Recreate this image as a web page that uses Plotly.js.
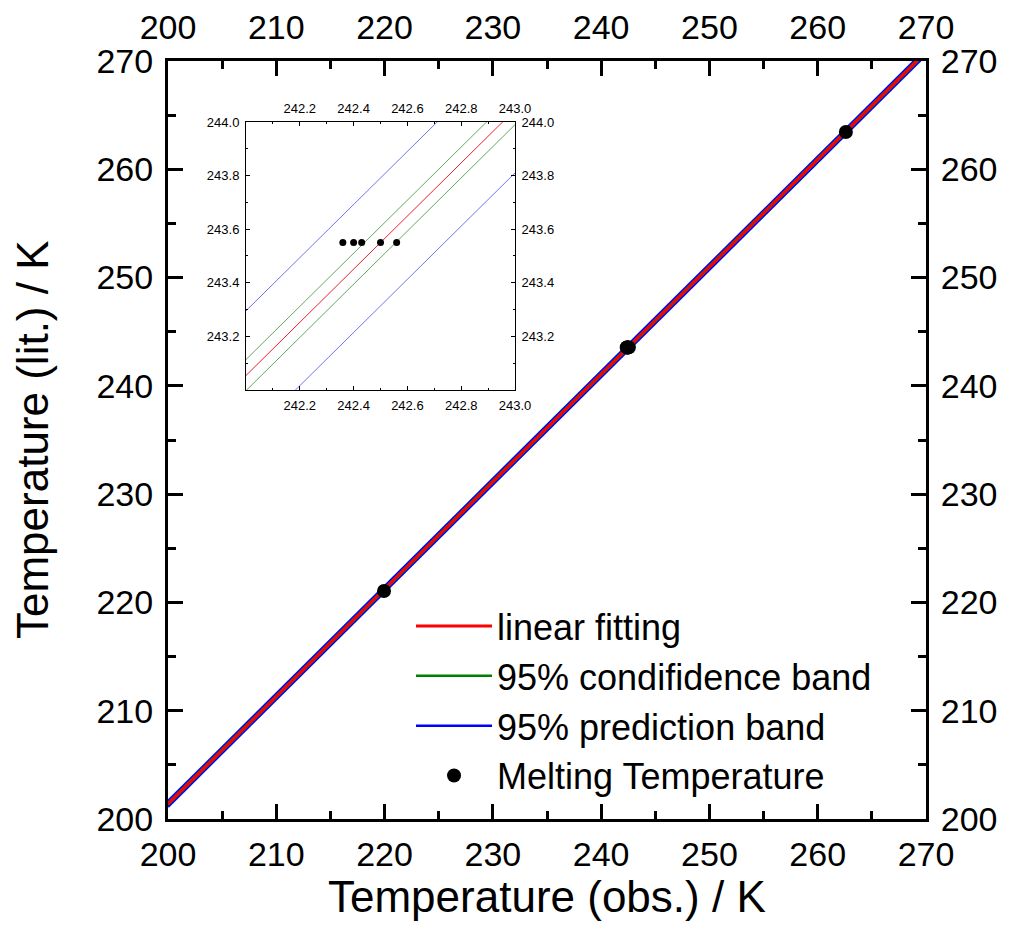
<!DOCTYPE html>
<html>
<head>
<meta charset="utf-8">
<script src="https://cdn.plot.ly/plotly-3.0.1.min.js"></script>
<style>html,body{margin:0;padding:0;background:#fff;}</style>
</head>
<body>
<div id="chart" style="width:1013px;height:942px;"></div>
<script>
// ---- data ----
var fitX = [200, 242, 243, 270];
var fitY = [201.39, 243.056, 244.048, 270.83];
var confUpperY = [201.47, 243.116, 244.105, 270.91];
var confLowerY = [201.31, 242.996, 243.990, 270.75];
var predUpperY = [201.65, 243.296, 244.287, 271.09];
var predLowerY = [201.13, 242.816, 243.810, 270.57];

var meltX = [219.95, 242.36, 242.40, 242.43, 242.50, 242.56, 262.60];
var meltY = [221.05, 243.55, 243.55, 243.55, 243.55, 243.55, 263.45];

var insetMeltX = [242.36, 242.40, 242.43, 242.50, 242.56];
var insetMeltY = [243.55, 243.55, 243.55, 243.55, 243.55];

var mainTicks = [200, 210, 220, 230, 240, 250, 260, 270];
var insetXTicks = [242.2, 242.4, 242.6, 242.8, 243.0];
var insetXLabels = ['242.2', '242.4', '242.6', '242.8', '243.0'];
var insetYTicks = [243.2, 243.4, 243.6, 243.8, 244.0];
var insetYLabels = ['243.2', '243.4', '243.6', '243.8', '244.0'];

var names = ['linear fitting', '95% condifidence band', '95% prediction band', 'Melting Temperature'];
var xTitle = 'Temperature (obs.) / K';
var yTitle = 'Temperature (lit.) / K';

// ---- build traces ----
var bandX = fitX.concat([null], fitX);
var confY = confUpperY.concat([null], confLowerY);
var predY = predUpperY.concat([null], predLowerY);

var FONT = 'Liberation Sans, Arial, Helvetica, sans-serif';

var traces = [
  {x: bandX, y: predY, mode: 'lines', name: names[2], legendrank: 3,
   line: {color: '#0000ff', width: 2.5}, connectgaps: false, xaxis: 'x', yaxis: 'y'},
  {x: bandX, y: confY, mode: 'lines', name: names[1], legendrank: 2,
   line: {color: '#008000', width: 2.5}, connectgaps: false, xaxis: 'x', yaxis: 'y'},
  {x: fitX, y: fitY, mode: 'lines', name: names[0], legendrank: 1,
   line: {color: '#ff0000', width: 3}, xaxis: 'x', yaxis: 'y'},
  {x: meltX, y: meltY, mode: 'markers', name: names[3], legendrank: 4,
   marker: {color: '#000000', size: 14}, xaxis: 'x2', yaxis: 'y2'},
  // inset
  {x: bandX, y: predY, mode: 'lines', showlegend: false,
   line: {color: '#7474ee', width: 1}, connectgaps: false, xaxis: 'x3', yaxis: 'y3'},
  {x: bandX, y: confY, mode: 'lines', showlegend: false,
   line: {color: '#62a862', width: 1}, connectgaps: false, xaxis: 'x3', yaxis: 'y3'},
  {x: fitX, y: fitY, mode: 'lines', showlegend: false,
   line: {color: '#ec2030', width: 1}, xaxis: 'x3', yaxis: 'y3'},
  {x: insetMeltX, y: insetMeltY, mode: 'markers', showlegend: false,
   marker: {color: '#000000', size: 7}, xaxis: 'x4', yaxis: 'y4'}
];

function mainAxis(extra) {
  var a = {
    range: [200, 270], tickmode: 'array', tickvals: mainTicks,
    ticks: 'inside', ticklen: 15, tickwidth: 3, tickcolor: '#000',
    showline: true, linewidth: 3, linecolor: '#000', mirror: false,
    showgrid: false, zeroline: false,
    minor: {tickmode: 'linear', tick0: 200, dtick: 5, ticks: 'inside', ticklen: 8,
            tickwidth: 3, tickcolor: '#000', showgrid: false},
    tickfont: {family: FONT, size: 34, color: '#000'},
    ticklabelstandoff: 5
  };
  for (var k in extra) a[k] = extra[k];
  return a;
}
function insetAxis(range, tv, tt, extra) {
  var a = {
    range: range, tickmode: 'array', tickvals: tv, ticktext: tt,
    ticks: 'inside', ticklen: 4, tickwidth: 1, tickcolor: '#000',
    showline: true, linewidth: 1, linecolor: '#000', mirror: false,
    showgrid: false, zeroline: false,
    minor: {tickmode: 'linear', tick0: range[0], dtick: 0.1, ticks: 'inside', ticklen: 2,
            tickwidth: 1, tickcolor: '#000', showgrid: false},
    tickfont: {family: FONT, size: 13, color: '#000'},
    ticklabelstandoff: 3
  };
  for (var k in extra) a[k] = extra[k];
  return a;
}

var layout = {
  width: 1013, height: 942,
  margin: {l: 168, r: 87, t: 61, b: 123, pad: 0},
  paper_bgcolor: '#fff', plot_bgcolor: '#fff',
  font: {family: FONT, color: '#000'},
  showlegend: true,
  legend: {x: 0.3206, xanchor: 'left', y: 0.294, yanchor: 'top',
           bgcolor: 'rgba(0,0,0,0)', borderwidth: 0,
           font: {family: FONT, size: 36, color: '#000'}, itemwidth: 76,
           tracegroupgap: 0},
  xaxis: mainAxis({anchor: 'y', ticklabelstandoff: 3}),
  xaxis2: mainAxis({overlaying: 'x', side: 'top', anchor: 'y'}),
  yaxis: mainAxis({anchor: 'x'}),
  yaxis2: mainAxis({overlaying: 'y', side: 'right', anchor: 'x'}),
  xaxis3: insetAxis([242, 243], insetXTicks, insetXLabels, {domain: [0.1029, 0.4578], anchor: 'y3'}),
  xaxis4: insetAxis([242, 243], insetXTicks, insetXLabels, {overlaying: 'x3', side: 'top', anchor: 'y3'}),
  yaxis3: insetAxis([243, 244], insetYTicks, insetYLabels, {domain: [0.566, 0.9195], anchor: 'x3'}),
  yaxis4: insetAxis([243, 244], insetYTicks, insetYLabels, {overlaying: 'y3', side: 'right', anchor: 'x3'}),
  annotations: [
    {text: xTitle, xref: 'paper', yref: 'paper', x: 0.5, y: -0.1029,
     xanchor: 'center', yanchor: 'middle', showarrow: false,
     font: {family: FONT, size: 44, color: '#000'}},
    {text: yTitle, xref: 'paper', yref: 'paper', x: -0.1794, y: 0.5, textangle: -90,
     xanchor: 'center', yanchor: 'middle', showarrow: false,
     font: {family: FONT, size: 44, color: '#000'}}
  ]
};

Plotly.newPlot('chart', traces, layout, {displayModeBar: false, staticPlot: true});
</script>
</body>
</html>
